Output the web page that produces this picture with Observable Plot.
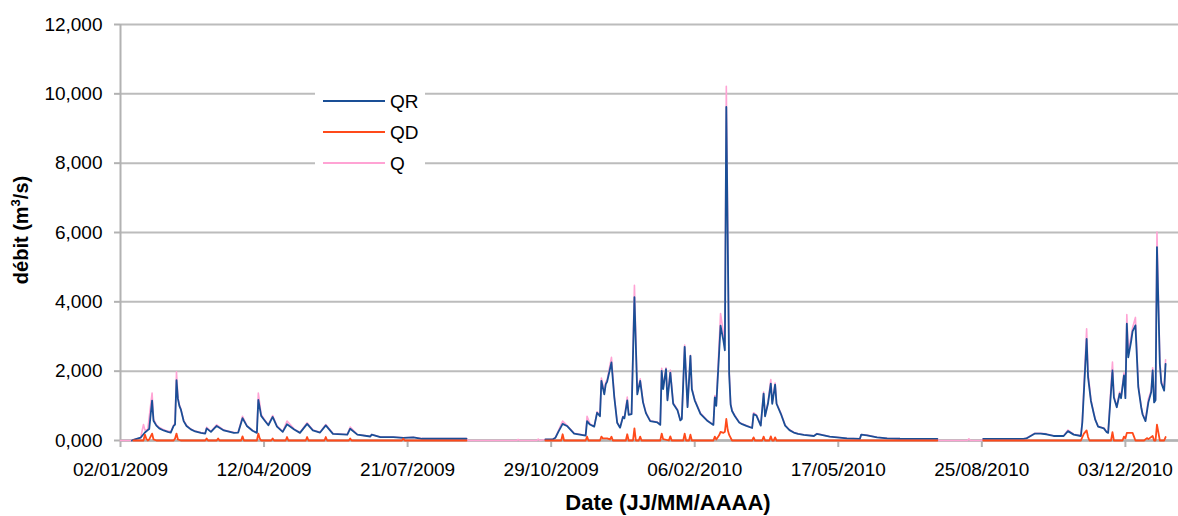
<!DOCTYPE html>
<html>
<head>
<meta charset="utf-8">
<script src="https://cdn.jsdelivr.net/npm/d3@7"></script>
<script src="https://cdn.jsdelivr.net/npm/@observablehq/plot@0.6"></script>
<style>
  html, body { margin: 0; padding: 0; background: #fff; }
  #chart { width: 1178px; height: 516px; }
</style>
</head>
<body>
<div id="chart"></div>
<script>
// x: day index counted from 02/01/2009 (category axis, one per day)
const xTickDays = [0, 100, 200, 300, 400, 500, 600, 700];
const xTickLabels = ["02/01/2009", "12/04/2009", "21/07/2009", "29/10/2009", "06/02/2010", "17/05/2010", "25/08/2010", "03/12/2010"];
const yTicks = [0, 2000, 4000, 6000, 8000, 10000, 12000];
const yTickLabels = ["0,000", "2,000", "4,000", "6,000", "8,000", "10,000", "12,000"];
const seriesNames = ["QR", "QD", "Q"];
const seriesColors = ["#1a4f96", "#ff4a1a", "#ffa3d4"];

// QR: [day, m3/s] (null = no data)
const qrSeries = [[8,0],[9,20],[14,80],[17,230],[19,300],[20,330],[22,1150],[23,570],[25,430],[27,350],[30,290],[33,250],[35,230],[37,420],[38,460],[39,1740],[40,1200],[41,1000],[42,900],[44,560],[46,420],[49,320],[52,260],[56,220],[59,200],[60,350],[63,250],[67,420],[72,290],[79,220],[82,230],[85,645],[88,420],[92,280],[95,220],[96,1170],[98,710],[100,600],[103,440],[106,680],[109,400],[113,250],[116,470],[121,320],[125,220],[130,480],[134,290],[139,230],[143,435],[148,190],[158,170],[160,340],[165,170],[174,115],[175,170],[181,95],[190,95],[197,75],[204,90],[210,50],[241,50],[242,null],
[296,30],[301,30],[303,80],[305,250],[308,480],[311,420],[316,200],[324,140],[325,560],[327,460],[330,400],[332,800],[334,700],[335,1720],[337,1330],[338,1620],[339,1700],[342,2250],[344,1240],[346,510],[348,370],[350,680],[351,640],[353,1160],[354,740],[356,760],[358,4135],[360,1330],[362,1720],[364,1100],[366,790],[369,560],[374,520],[376,450],[377,2010],[378,1480],[380,2060],[381,1160],[383,1960],[385,1060],[388,870],[390,580],[391,620],[393,2700],[395,960],[397,2440],[398,1480],[400,1160],[404,770],[409,560],[413,450],[414,1240],[415,1000],[418,3310],[420,2880],[421,2600],[422,9620],[424,1920],[425,1040],[426,850],[428,700],[431,520],[433,470],[436,420],[440,360],[441,760],[443,720],[446,430],[448,1350],[449,700],[451,1060],[453,1640],[454,1060],[456,1610],[457,1060],[460,770],[463,430],[466,300],[469,230],[472,190],[476,160],[483,130],[485,190],[494,110],[506,60],[515,45],[516,170],[520,150],[527,90],[534,60],[543,50],[569,45],[570,null],
[601,45],[629,45],[631,60],[637,200],[641,200],[645,180],[650,130],[657,130],[660,270],[664,170],[669,130],[670,520],[673,2930],[674,1830],[676,1140],[678,770],[679,600],[681,400],[685,350],[687,240],[688,220],[691,2020],[692,1240],[694,960],[696,1350],[697,1220],[699,1875],[700,1220],[701,3370],[702,2400],[704,2860],[705,3150],[707,3320],[709,1540],[711,960],[712,750],[714,560],[716,1100],[718,1400],[719,2020],[720,1100],[721,1160],[722,5580],[724,2210],[725,1660],[727,1440],[728,2210]];

// QD: [day, m3/s]
const qdSeries = [[9,0],[16,0],[17,170],[18,50],[19,0],[20,30],[22,200],[23,30],[25,0],[37,0],[38,60],[39,200],[40,30],[42,0],[59,0],[60,60],[61,0],[67,0],[68,60],[69,0],[84,0],[85,120],[86,0],[95,0],[96,200],[97,60],[98,0],[105,0],[106,60],[107,0],[115,0],[116,100],[117,0],[129,0],[130,100],[131,0],[142,0],[143,100],[144,0],[159,0],[160,60],[161,0],[196,0],[197,50],[198,0],[241,0],[242,null],
[296,0],[307,0],[308,180],[309,0],[324,0],[325,110],[326,0],[334,0],[335,110],[336,60],[338,60],[339,60],[341,30],[342,110],[343,0],[352,0],[353,180],[354,0],[357,0],[358,350],[359,0],[361,0],[362,110],[363,0],[376,0],[377,200],[378,40],[382,0],[383,120],[384,0],[392,0],[393,200],[394,0],[396,0],[397,170],[398,0],[413,0],[414,110],[415,30],[417,150],[418,250],[420,220],[421,250],[422,620],[423,300],[424,160],[426,0],[440,0],[441,90],[442,0],[447,0],[448,110],[449,0],[452,0],[453,120],[454,0],[455,0],[456,90],[457,0],[569,0],[570,null],
[601,0],[669,0],[671,190],[673,290],[674,100],[675,0],[690,0],[691,240],[692,0],[698,0],[699,110],[700,60],[701,220],[703,220],[705,220],[706,110],[707,0],[713,0],[715,70],[716,40],[719,130],[720,0],[721,0],[722,460],[724,0],[727,0],[728,100]];

// Q: [day, m3/s]
const qSeries = [[0,0],[8,0],[9,20],[14,80],[16,460],[17,300],[19,320],[22,1370],[23,620],[25,450],[27,380],[30,310],[33,270],[35,250],[37,440],[38,500],[39,1980],[40,1250],[41,1030],[42,920],[44,580],[46,440],[49,330],[52,270],[56,230],[59,210],[60,380],[63,260],[67,450],[72,300],[79,230],[82,240],[85,700],[88,430],[92,290],[95,230],[96,1370],[98,750],[100,620],[103,450],[106,720],[109,420],[113,260],[116,560],[121,330],[125,230],[130,510],[134,300],[139,240],[143,460],[148,200],[158,175],[160,390],[165,175],[174,120],[175,175],[181,100],[190,100],[197,80],[204,95],[210,55],[241,55],[242,0],[276,0],[277,30],[278,0],[290,0],[291,40],[292,0],
[296,30],[301,30],[303,90],[305,280],[308,560],[311,440],[316,210],[324,150],[325,700],[327,480],[330,410],[332,830],[334,720],[335,1800],[337,1380],[338,1680],[339,1750],[342,2400],[344,1280],[346,520],[348,380],[350,700],[351,660],[353,1250],[354,760],[356,780],[358,4480],[360,1380],[362,1780],[364,1130],[366,810],[369,570],[374,530],[376,460],[377,2080],[378,1520],[380,2100],[381,1190],[383,2030],[385,1090],[388,890],[390,590],[391,640],[393,2750],[395,990],[397,2460],[398,1510],[400,1180],[404,790],[409,570],[413,460],[414,1300],[415,1030],[418,3660],[420,3100],[421,2850],[422,10220],[424,2000],[425,1080],[426,870],[428,720],[431,530],[433,480],[436,430],[440,370],[441,800],[443,740],[446,440],[448,1400],[449,720],[451,1090],[453,1760],[454,1090],[456,1660],[457,1080],[460,790],[463,440],[466,310],[469,240],[472,195],[476,165],[483,135],[485,200],[494,115],[506,65],[515,50],[516,175],[520,155],[527,95],[534,65],[543,55],[569,50],[570,0],[590,0],[591,50],[592,0],[600,0],
[601,50],[629,50],[631,65],[637,210],[641,210],[645,190],[650,135],[657,135],[660,300],[664,180],[669,140],[670,560],[673,3220],[674,1950],[676,1180],[678,790],[679,610],[681,410],[685,360],[687,250],[688,230],[691,2260],[692,1280],[694,990],[696,1400],[697,1260],[699,1950],[700,1280],[701,3630],[702,2550],[704,3000],[705,3250],[707,3550],[709,1600],[711,990],[712,770],[714,580],[716,1200],[718,1450],[719,2100],[720,1150],[721,1200],[722,6010],[724,2300],[725,1720],[727,1500],[728,2330]];

const gridColor = "#bcbcbc";
const axisColor = "#b2b2b2";
const font = "'Liberation Sans', Arial, sans-serif";

const toRows = s => s.map(([d, v]) => ({day: d, value: v}));

const svg = Plot.plot({
  width: 1178,
  height: 516,
  marginLeft: 120,
  marginRight: 0,
  marginTop: 24,
  marginBottom: 76,
  style: {fontFamily: font, fontSize: "19px", color: "#000", background: "#fff", overflow: "visible"},
  x: {type: "linear", domain: [0, 737]},
  y: {domain: [0, 12000]},
  marks: [
    Plot.gridY(yTicks, {stroke: gridColor, strokeOpacity: 1, strokeWidth: 2}),
    Plot.axisY(yTicks, {tickSize: 6, tickPadding: 12, tickFormat: d => yTickLabels[yTicks.indexOf(d)], label: null, stroke: axisColor, strokeWidth: 2, fill: "#000"}),
    Plot.axisX(xTickDays, {tickSize: 7, tickPadding: 15, tickFormat: d => xTickLabels[xTickDays.indexOf(d)], label: null, stroke: axisColor, strokeWidth: 2, fill: "#000"}),
    Plot.ruleX([0], {stroke: axisColor, strokeWidth: 2}),
    Plot.ruleY([0], {stroke: axisColor, strokeWidth: 2.5}),
    Plot.line(toRows(qSeries), {x: "day", y: "value", stroke: seriesColors[2], strokeWidth: 1.6, curve: "linear"}),
    Plot.line(toRows(qrSeries), {x: "day", y: "value", stroke: seriesColors[0], strokeWidth: 1.8, curve: "linear"}),
    Plot.line(toRows(qdSeries), {x: "day", y: "value", stroke: seriesColors[1], strokeWidth: 1.8, curve: "linear"})
  ]
});

const s = d3.select(svg);
// axis titles
const yl = s.append("text")
  .attr("transform", "translate(28,230) rotate(-90)")
  .attr("text-anchor", "middle")
  .attr("font-family", font).attr("font-weight", "bold").attr("font-size", 20).attr("fill", "#000");
yl.append("tspan").text("débit (m");
yl.append("tspan").attr("font-size", 13).attr("dy", -8).text("3");
yl.append("tspan").attr("dy", 8).text("/s)");

s.append("text")
  .attr("x", 668).attr("y", 510)
  .attr("text-anchor", "middle")
  .attr("font-family", font).attr("font-weight", "bold").attr("font-size", 22).attr("fill", "#000")
  .text("Date (JJ/MM/AAAA)");

// legend
const lg = s.append("g");
lg.append("rect").attr("x", 315).attr("y", 84).attr("width", 110).attr("height", 92).attr("fill", "#fff");
seriesNames.forEach((name, i) => {
  const y = 101 + i * 31;
  lg.append("line").attr("x1", 323).attr("x2", 385).attr("y1", y).attr("y2", y)
    .attr("stroke", seriesColors[i]).attr("stroke-width", 2);
  lg.append("text").attr("x", 390).attr("y", y).attr("dy", "0.35em")
    .attr("text-anchor", "start")
    .attr("font-family", font).attr("font-size", 19).attr("fill", "#000").text(name);
});

document.getElementById("chart").appendChild(svg);
</script>
</body>
</html>
